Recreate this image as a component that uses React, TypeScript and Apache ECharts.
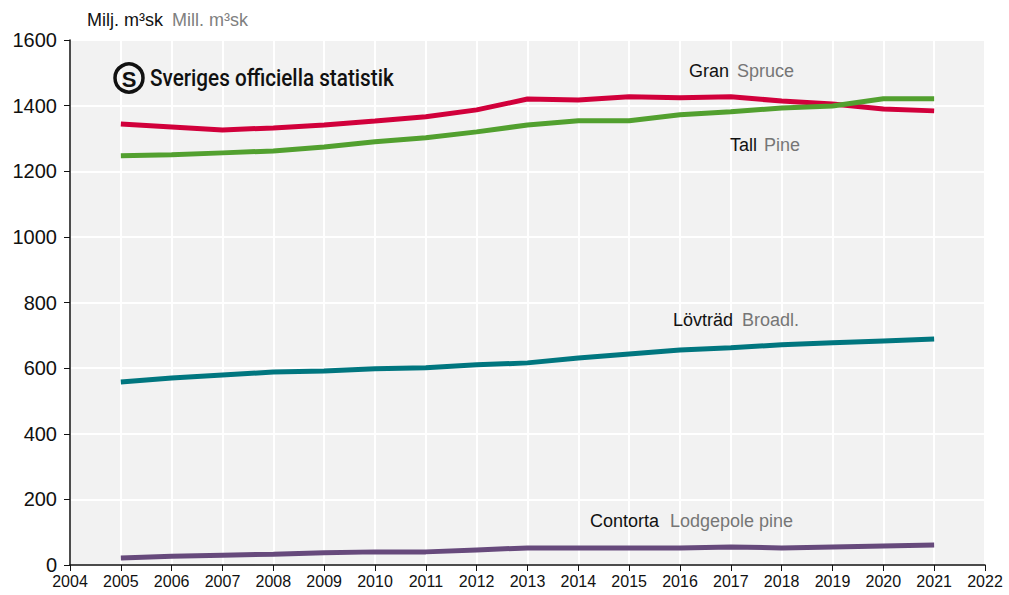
import React, { useEffect, useRef } from "react";
import * as echarts from "echarts";

const years = [2005, 2006, 2007, 2008, 2009, 2010, 2011, 2012, 2013, 2014, 2015, 2016, 2017, 2018, 2019, 2020, 2021];
const gran = [1344, 1335, 1326, 1332, 1341, 1353, 1366, 1387, 1420, 1417, 1427, 1424, 1427, 1414, 1405, 1390, 1384];
const tall = [1247, 1250, 1256, 1262, 1274, 1290, 1302, 1320, 1341, 1354, 1354, 1372, 1381, 1393, 1399, 1421, 1421];
const lovtrad = [558, 570, 579, 588, 591, 598, 601, 610, 616, 631, 643, 655, 662, 671, 677, 683, 689];
const contorta = [21, 27, 30, 33, 37, 40, 40, 46, 52, 52, 52, 52, 55, 52, 55, 58, 61];

const seriesDefs = [
  { name: "Gran", data: gran, color: "#d1003b" },
  { name: "Tall", data: tall, color: "#52a02f" },
  { name: "Lövträd", data: lovtrad, color: "#00767f" },
  { name: "Contorta", data: contorta, color: "#674a7c" },
];

const FONT = "Liberation Sans, Arial, sans-serif";

function txt(x: number, y: number, text: string, fill: string, fontSize = 18) {
  return {
    type: "text",
    x,
    y,
    z: 100,
    style: { text, fill, fontSize, fontFamily: FONT, verticalAlign: "middle", align: "left" },
  };
}

export default function App() {
  const ref = useRef<HTMLDivElement>(null);
  useEffect(() => {
    const chart = echarts.init(ref.current!, null, { renderer: "svg" });
    chart.setOption({
      animation: false,
      grid: {
        left: 70,
        right: 24,
        top: 40,
        bottom: 30,
        show: true,
        backgroundColor: "#f2f2f2",
        borderWidth: 0,
      },
      xAxis: {
        type: "value",
        min: 2004,
        max: 2022,
        interval: 1,
        axisLine: { show: true, lineStyle: { color: "#111", width: 1.5 } },
        axisTick: { show: true, length: 6, lineStyle: { color: "#111" } },
        axisLabel: { color: "#111", fontSize: 16, fontFamily: FONT, margin: 8, formatter: (v: number) => String(v) },
        splitLine: { show: true, lineStyle: { color: "#ffffff", width: 2 } },
      },
      yAxis: {
        type: "value",
        min: 0,
        max: 1600,
        interval: 200,
        axisLine: { show: true, lineStyle: { color: "#111", width: 1.5 } },
        axisTick: { show: true, length: 6, lineStyle: { color: "#111" } },
        axisLabel: { color: "#111", fontSize: 20, fontFamily: FONT, margin: 13, formatter: (v: number) => String(v) },
        splitLine: { show: true, lineStyle: { color: "#ffffff", width: 2 } },
      },
      series: seriesDefs.map((s) => ({
        name: s.name,
        type: "line",
        data: years.map((y, i) => [y, s.data[i]]),
        showSymbol: false,
        lineStyle: { color: s.color, width: 5 },
        itemStyle: { color: s.color },
      })),
      graphic: [
        txt(87, 20, "Milj. m³sk", "#111", 18),
        txt(172, 20, "Mill. m³sk", "#808080", 18),
        {
          type: "circle",
          z: 100,
          shape: { cx: 129, cy: 78, r: 14 },
          style: { fill: "none", stroke: "#111", lineWidth: 3.5 },
        },
        {
          type: "text",
          x: 129,
          y: 79,
          z: 100,
          style: {
            text: "S",
            align: "center",
            verticalAlign: "middle",
            fill: "#111",
            fontSize: 22,
            fontWeight: "bold",
            fontFamily: FONT,
          },
        },
        {
          type: "text",
          x: 150,
          y: 78,
          z: 100,
          scaleX: 0.9,
          style: {
            text: "Sveriges officiella statistik",
            verticalAlign: "middle",
            fill: "#111",
            fontSize: 23,
            fontWeight: 500,
            fontFamily: "Roboto, sans-serif",
          },
        },
        txt(689, 71, "Gran", "#111"),
        txt(737, 71, "Spruce", "#767676"),
        txt(730, 145, "Tall", "#111"),
        txt(764, 145, "Pine", "#767676"),
        txt(673, 320, "Lövträd", "#111"),
        txt(742, 320, "Broadl.", "#767676"),
        txt(590, 521, "Contorta", "#111"),
        txt(670, 521, "Lodgepole pine", "#767676"),
      ],
    });
    return () => chart.dispose();
  }, []);
  return <div ref={ref} style={{ width: 1009, height: 595, position: "absolute", left: 0, top: 0 }} />;
}
